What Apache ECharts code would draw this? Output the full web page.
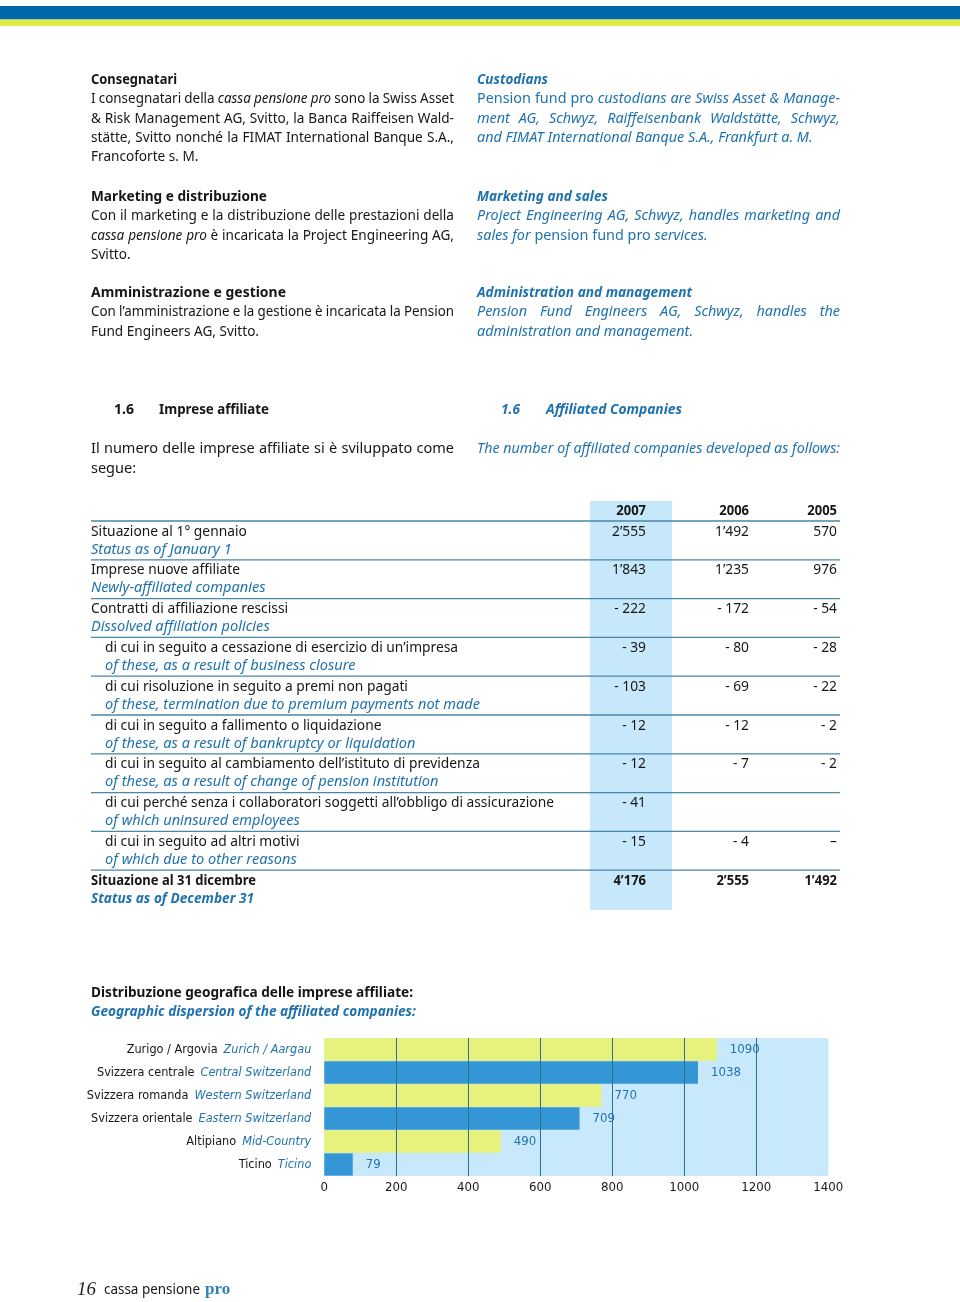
<!DOCTYPE html>
<html><head><meta charset="utf-8">
<script src="https://cdn.jsdelivr.net/npm/echarts@6/dist/echarts.min.js"></script>
<style>html,body{margin:0;padding:0;background:#fff}#c{width:960px;height:1302px}</style>
</head><body><div id="c"></div>
<script>
// ---------------- DATA ----------------
const regionsIt = ['Zurigo / Argovia', 'Svizzera centrale', 'Svizzera romanda', 'Svizzera orientale', 'Altipiano', 'Ticino'];
const regionsEn = ['Zurich / Aargau', 'Central Switzerland', 'Western Switzerland', 'Eastern Switzerland', 'Mid-Country', 'Ticino'];
const companiesByRegion = [1090, 1038, 770, 709, 490, 79];
const xAxisMin = 0, xAxisMax = 1400, xAxisStep = 200;

const years = ['2007', '2006', '2005'];
const rowLabelsIt = [
  'Situazione al 1° gennaio',
  'Imprese nuove affiliate',
  'Contratti di affiliazione rescissi',
  'di cui in seguito a cessazione di esercizio di un’impresa',
  'di cui risoluzione in seguito a premi non pagati',
  'di cui in seguito a fallimento o liquidazione',
  'di cui in seguito al cambiamento dell’istituto di previdenza',
  'di cui perché senza i collaboratori soggetti all’obbligo di assicurazione',
  'di cui in seguito ad altri motivi',
  'Situazione al 31 dicembre'
];
const rowLabelsEn = [
  'Status as of January 1',
  'Newly-affiliated companies',
  'Dissolved affiliation policies',
  'of these, as a result of business closure',
  'of these, termination due to premium payments not made',
  'of these, as a result of bankruptcy or liquidation',
  'of these, as a result of change of pension institution',
  'of which uninsured employees',
  'of which due to other reasons',
  'Status as of December 31'
];
const rowIndented = [false, false, false, true, true, true, true, true, true, false];
const rowBold = [false, false, false, false, false, false, false, false, false, true];
const values2007 = [2555, 1843, -222, -39, -103, -12, -12, -41, -15, 4176];
const values2006 = [1492, 1235, -172, -80, -69, -12, -7, null, -4, 2555];
const values2005 = [570, 976, -54, -28, -22, -2, -2, null, 0, 1492];

// ---------------- HELPERS ----------------
const BLUE = '#1f72ad', BLACK = '#161616';
const SANS = '"Noto Sans", "Open Sans", sans-serif';
const SERIF = '"Liberation Serif", "DejaVu Serif", serif';
const mctx = document.createElement('canvas').getContext('2d');
function measure(f, s) { mctx.font = f; return mctx.measureText(s).width; }
function hasFont(name) {
  const s = 'abcdefghijklmnopqrstuvwxyzABCDEFGHIJ0123456789';
  return measure('40px monospace', s) !== measure('40px "' + name + '", monospace', s);
}
const COND_FAM = hasFont('DejaVu Sans Condensed') ? '"DejaVu Sans Condensed", sans-serif' :
  (hasFont('Liberation Sans Narrow') ? '"Liberation Sans Narrow", sans-serif' : SANS);

function F(size, o) { o = o || {}; return (o.i ? 'italic ' : '') + (o.b ? 'bold ' : '') + size + 'px ' + (o.fam || SANS); }
function T(x, y, text, font, color, align, sx) {
  return { type: 'text', x: x, y: y, scaleX: sx || 1, silent: true,
    style: { text: text, font: font, fill: color, textAlign: align || 'left', align: align || 'left', textVerticalAlign: 'middle', verticalAlign: 'middle' } };
}
function fitT(x, y, text, font, color, width) { return T(x, y, text, font, color, 'left', width / measure(font, text)); }

const G = [];
// top stripes
G.push({ type: 'rect', silent: true, shape: { x: 0, y: 6, width: 960, height: 13.5 }, style: { fill: '#0067a9' } });
G.push({ type: 'rect', silent: true, shape: { x: 0, y: 19.5, width: 960, height: 6.5 }, style: { fill: '#dfeb48' } });

// justified paragraphs
function para(x, y0, lh, width, lines, size, color, baseItalic) {
  lines.forEach(function (line, li) {
    const justify = li < lines.length - 1;
    let italic = baseItalic; const words = [];
    line.split('_').forEach(function (p, pi) {
      if (pi > 0) italic = !italic;
      p.split(' ').forEach(function (w) { if (w) words.push({ w: w, f: F(size, { i: italic }) }); });
    });
    words.forEach(function (o) { o.wd = measure(o.f, o.w); });
    const sum = words.reduce(function (a, o) { return a + o.wd; }, 0);
    const sp = measure(F(size), ' ');
    let gap = sp, sc = 1;
    if (justify && words.length > 1) {
      gap = (width - sum) / (words.length - 1);
      if (gap < sp * 0.9) { gap = sp * 0.9; sc = (width - gap * (words.length - 1)) / sum; }
    }
    let cx = x;
    words.forEach(function (o) {
      G.push(T(cx, y0 + li * lh, o.w, o.f, color, 'left', sc));
      cx += o.wd * sc + gap;
    });
  });
}
const LH = 19.4, COLW = 363, LX = 91, RX = 477, ITS = 13.6, ENS = 14.4;
// left column
G.push(fitT(LX, 80, 'Consegnatari', F(14, { b: 1 }), BLACK, 86));
para(LX, 80 + LH, LH, COLW, ['I consegnatari della _cassa pensione pro_ sono la Swiss Asset', '& Risk Management AG, Svitto, la Banca Raiffeisen Wald-', 'stätte, Svitto nonché la FIMAT International Banque S.A.,', 'Francoforte s. M.'], ITS, BLACK, false);
G.push(fitT(LX, 197, 'Marketing e distribuzione', F(14, { b: 1 }), BLACK, 176));
para(LX, 197 + LH, LH, COLW, ['Con il marketing e la distribuzione delle prestazioni della', '_cassa pensione pro_ è incaricata la Project Engineering AG,', 'Svitto.'], ITS, BLACK, false);
G.push(fitT(LX, 293, 'Amministrazione e gestione', F(14, { b: 1 }), BLACK, 195));
para(LX, 293 + LH, LH, COLW, ['Con l’amministrazione e la gestione è incaricata la Pension', 'Fund Engineers AG, Svitto.'], ITS, BLACK, false);
// right column
G.push(fitT(RX, 80, 'Custodians', F(14, { b: 1, i: 1 }), BLUE, 71));
para(RX, 80 + LH, LH, COLW, ['_Pension fund pro_ custodians are Swiss Asset & Manage-', 'ment AG, Schwyz, Raiffeisenbank Waldstätte, Schwyz,', 'and FIMAT International Banque S.A., Frankfurt a. M.'], ENS, BLUE, true);
G.push(fitT(RX, 197, 'Marketing and sales', F(14, { b: 1, i: 1 }), BLUE, 131));
para(RX, 197 + LH, LH, COLW, ['Project Engineering AG, Schwyz, handles marketing and', 'sales for _pension fund pro_ services.'], ENS, BLUE, true);
G.push(fitT(RX, 293, 'Administration and management', F(14, { b: 1, i: 1 }), BLUE, 215));
para(RX, 293 + LH, LH, COLW, ['Pension Fund Engineers AG, Schwyz, handles the', 'administration and management.'], ENS, BLUE, true);

// section heading
G.push(fitT(114, 410, '1.6', F(15, { b: 1 }), BLACK, 20));
G.push(fitT(159, 410, 'Imprese affiliate', F(15, { b: 1 }), BLACK, 110));
G.push(fitT(501, 410, '1.6', F(15, { b: 1, i: 1 }), BLUE, 19));
G.push(fitT(546, 410, 'Affiliated Companies', F(15, { b: 1, i: 1 }), BLUE, 136));
para(LX, 449, 20, COLW, ['Il numero delle imprese affiliate si è sviluppato come', 'segue:'], 14.5, BLACK, false);
G.push(fitT(RX, 449, 'The number of affiliated companies developed as follows:', F(15, { i: 1 }), BLUE, 363));

// ---------------- TABLE ----------------
const TS = 14.5;
const sN = 449 / measure(F(TS), rowLabelsIt[7]);
const sI = 375 / measure(F(TS, { i: 1 }), rowLabelsEn[4]);
const sB = 165 / measure(F(TS, { b: 1 }), rowLabelsIt[9]);
const sBI = 163 / measure(F(TS, { b: 1, i: 1 }), rowLabelsEn[9]);
const colRight = [646, 749, 837];
const firstLine = 521, rowPitch = 38.8;
G.push({ type: 'rect', silent: true, shape: { x: 590, y: 501, width: 82, height: 409 }, style: { fill: '#c7e8fb' } });
years.forEach(function (y, k) { G.push(T(colRight[k], 511, y, F(TS, { b: 1 }), BLACK, 'right', sB)); });
function fmt(v) {
  if (v === null) return '';
  if (v === 0) return '–';
  const a = Math.abs(v);
  const s = a >= 1000 ? Math.floor(a / 1000) + '’' + String(a % 1000).padStart(3, '0') : String(a);
  return v < 0 ? '- ' + s : s;
}
const cols = [values2007, values2006, values2005];
rowLabelsIt.forEach(function (lab, r) {
  const L = firstLine + r * rowPitch;
  G.push({ type: 'line', silent: true, shape: { x1: 91, y1: L, x2: 840, y2: L }, style: { stroke: '#4a86a6', lineWidth: 1.3 } });
  const x = rowIndented[r] ? 105 : 91;
  const b = rowBold[r];
  G.push(T(x, L + 10.5, lab, F(TS, { b: b }), BLACK, 'left', b ? sB : sN));
  G.push(T(x, L + 28.5, rowLabelsEn[r], F(TS, { b: b, i: 1 }), BLUE, 'left', b ? sBI : sI));
  cols.forEach(function (c, k) {
    G.push(T(colRight[k], L + 10.5, fmt(c[r]), F(TS, { b: b }), BLACK, 'right', b ? sB : sN));
  });
});

// chart titles
G.push(fitT(LX, 993, 'Distribuzione geografica delle imprese affiliate:', F(15, { b: 1 }), BLACK, 322));
G.push(fitT(LX, 1012, 'Geographic dispersion of the affiliated companies:', F(15, { b: 1, i: 1 }), BLUE, 325));

// footer
G.push(T(77, 1290, '16', F(19, { i: 1, fam: SERIF }), '#222', 'left'));
G.push(fitT(104, 1290, 'cassa pensione', F(15), BLACK, 96));
G.push(T(205, 1290, 'pro', F(17, { b: 1, fam: SERIF }), '#3482b5', 'left'));

// ---------------- CHART ----------------
const LAB = 13;
const labW = measure(F(LAB, { fam: COND_FAM }), 'Svizzera orientale ') + measure(F(LAB, { i: 1, fam: COND_FAM }), 'Eastern Switzerland') + 3;
const labSize = Math.max(10.5, Math.min(16, LAB * 221 / labW));

const chart = echarts.init(document.getElementById('c'), null, { renderer: 'canvas', width: 960, height: 1302 });
chart.setOption({
  animation: false,
  backgroundColor: '#ffffff',
  graphic: { elements: G },
  grid: { left: 324.3, top: 1038, width: 504, height: 138, show: true, backgroundColor: '#c8e9fb', borderWidth: 0, containLabel: false },
  xAxis: {
    type: 'value', min: xAxisMin, max: xAxisMax, interval: xAxisStep, z: 5,
    axisLine: { show: false }, axisTick: { show: false },
    splitLine: { show: true, showMinLine: false, showMaxLine: false, lineStyle: { color: '#2f6f8f', width: 1 } },
    axisLabel: { color: BLACK, fontSize: labSize + 0.5, fontFamily: COND_FAM, margin: 5, formatter: function (v) { return String(v); } }
  },
  yAxis: {
    type: 'category', inverse: true, data: regionsIt,
    axisLine: { show: false }, axisTick: { show: false }, splitLine: { show: false },
    axisLabel: {
      margin: 13,
      formatter: function (v, i) { return '{it|' + v + '}{en|' + regionsEn[i] + '}'; },
      rich: {
        it: { color: BLACK, fontSize: labSize, fontFamily: COND_FAM, padding: [0, 6, 0, 0] },
        en: { color: BLUE, fontSize: labSize, fontFamily: COND_FAM, fontStyle: 'italic' }
      }
    }
  },
  series: [{
    type: 'bar', z: 2, barCategoryGap: '3%',
    data: companiesByRegion.map(function (v, i) { return { value: v, itemStyle: { color: i % 2 ? '#3496d4' : '#e6f27c' } }; }),
    label: { show: true, position: 'right', distance: 13, color: BLUE, fontSize: labSize + 0.5, fontFamily: COND_FAM }
  }]
});
</script>
</body></html>
